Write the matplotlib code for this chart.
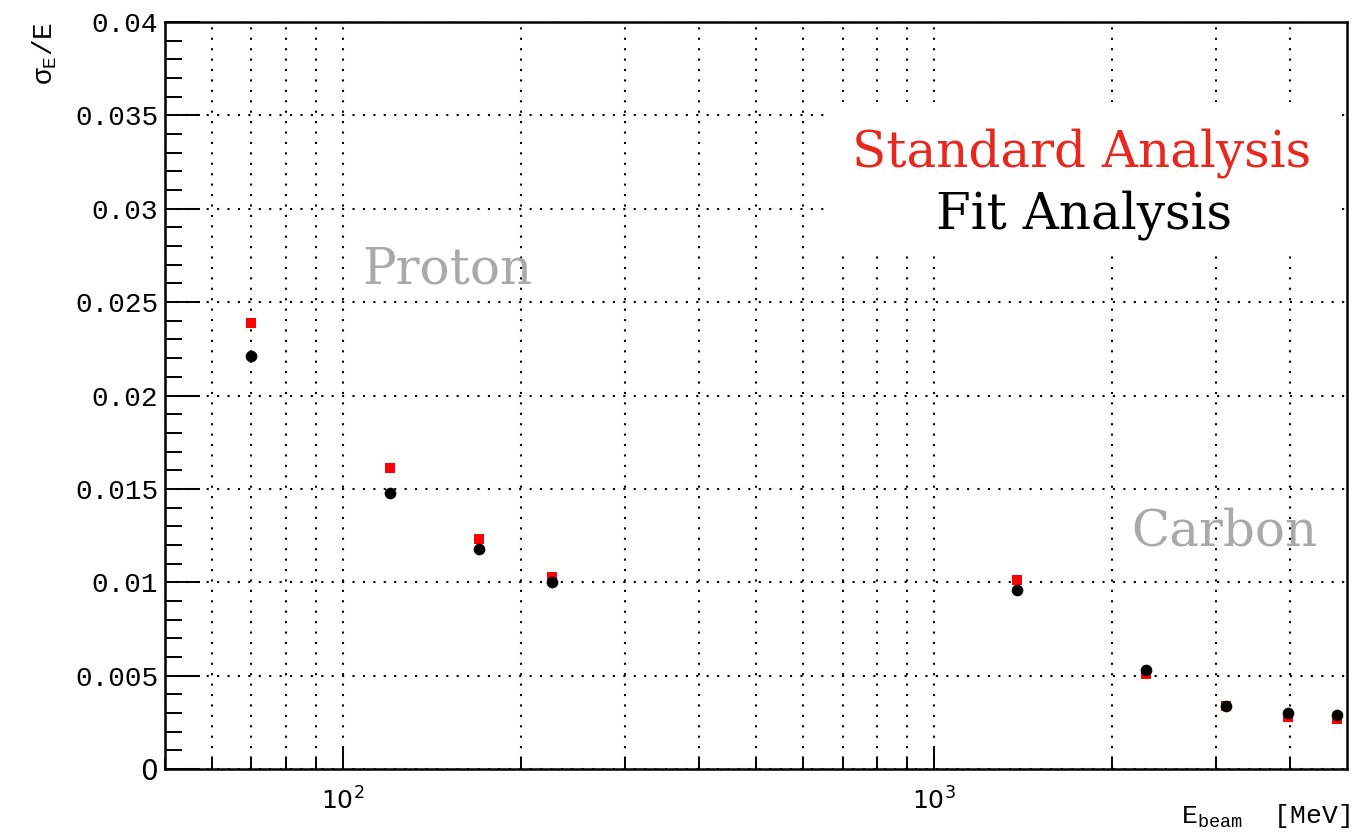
import matplotlib
matplotlib.use("Agg")
import matplotlib.pyplot as plt
from matplotlib.ticker import LogLocator, FixedLocator, MultipleLocator, NullFormatter, FixedFormatter
from matplotlib.patches import Rectangle

plt.rcParams['mathtext.fontset'] = 'custom'
plt.rcParams['mathtext.rm'] = 'Liberation Mono'
plt.rcParams['mathtext.it'] = 'Liberation Mono'

# Data
proton_energy = [70, 120, 170, 226]
proton_standard = [0.0239, 0.0161, 0.0123, 0.0103]
proton_fit = [0.0221, 0.0148, 0.0118, 0.0100]

carbon_energy = [1380, 2280, 3120, 3960, 4800]
carbon_standard = [0.0101, 0.0051, 0.0034, 0.0028, 0.0027]
carbon_fit = [0.0096, 0.0053, 0.0034, 0.0030, 0.0029]

y_ticks = [0, 0.005, 0.01, 0.015, 0.02, 0.025, 0.03, 0.035, 0.04]
y_tick_labels = ['0', '0.005', '0.01', '0.015', '0.02', '0.025', '0.03', '0.035', '0.04']
x_ticks = [100, 1000]
x_tick_labels = [r'$\mathdefault{10^{2}}$', r'$\mathdefault{10^{3}}$']

W, H = 1362, 834
fig = plt.figure(figsize=(W / 100, H / 100), dpi=100)
ax = fig.add_axes([165 / W, 1 - 769 / H, (1347 - 165) / W, (769 - 22) / H])

ax.set_xscale('log')
ax.set_xlim(50, 4990)
ax.set_ylim(0, 0.04)

# grid
ax.set_axisbelow(True)
grid_kw = dict(color='black', linewidth=1.5, linestyle=(0, (1.0, 4.0)))
ax.xaxis.grid(True, which='both', **grid_kw)
ax.yaxis.grid(True, which='major', **grid_kw)

# white legend area covering the grid
ax.add_patch(Rectangle((655, 0.0276), 4850 - 655, 0.0357 - 0.0276,
                       facecolor='white', edgecolor='none', zorder=1.5))

all_e = proton_energy + carbon_energy
all_std = proton_standard + carbon_standard
all_fit = proton_fit + carbon_fit
ax.plot(all_e, all_std, linestyle='none', marker='s', markersize=7.8,
        color='#ff0000', markeredgewidth=0, zorder=3)
ax.plot(all_e, all_fit, linestyle='none', marker='o', markersize=8.4,
        color='black', markeredgewidth=0, zorder=4)

# ticks
ax.yaxis.set_major_locator(FixedLocator(y_ticks))
ax.yaxis.set_major_formatter(FixedFormatter(y_tick_labels))
ax.yaxis.set_minor_locator(MultipleLocator(0.001))
ax.xaxis.set_major_locator(FixedLocator(x_ticks))
ax.xaxis.set_major_formatter(FixedFormatter(x_tick_labels))
ax.xaxis.set_minor_locator(LogLocator(base=10, subs=range(2, 10)))
ax.xaxis.set_minor_formatter(NullFormatter())

ax.tick_params(axis='y', which='major', direction='in', length=25, width=1.4,
               labelsize=20, pad=5)
ax.tick_params(axis='y', which='minor', direction='in', length=12.5, width=1.4)
ax.tick_params(axis='x', which='major', direction='in', length=16, width=1.4,
               labelsize=18, pad=13)
ax.tick_params(axis='x', which='minor', direction='in', length=8, width=1.4)
for lbl in ax.get_yticklabels():
    lbl.set_fontfamily('Liberation Mono')
ax.get_yticklabels()[0].set_fontfamily('DejaVu Sans')

for s in ax.spines.values():
    s.set_linewidth(1.8)

# axis titles
fig.text(1350 / W, 1 - 823 / H, r'E$_\mathrm{beam}$  [MeV]', ha='right', va='baseline',
         fontsize=19, family='Liberation Mono')
fig.text(45 / W, 1 - 22 / H, r'σ$_\mathrm{E}$/E', rotation=90, ha='center', va='top',
         fontsize=20, family='Liberation Mono')

# annotations
fig.text(1082 / W, 1 - 166 / H, 'Standard Analysis', ha='center', va='baseline',
         fontsize=36, family='DejaVu Serif', color='#e8281e')
fig.text(1084 / W, 1 - 228 / H, 'Fit Analysis', ha='center', va='baseline',
         fontsize=36, family='DejaVu Serif', color='black')
fig.text(447 / W, 1 - 283 / H, 'Proton', ha='center', va='baseline',
         fontsize=36, family='DejaVu Serif', color='#a9a9a9')
fig.text(1224 / W, 1 - 546 / H, 'Carbon', ha='center', va='baseline',
         fontsize=36, family='DejaVu Serif', color='#a9a9a9')

fig.savefig('out.png', dpi=100)
